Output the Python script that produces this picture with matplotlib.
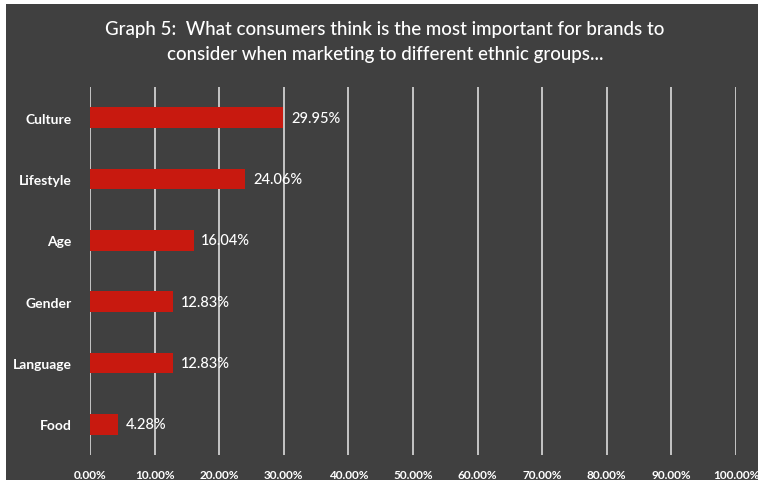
import matplotlib
matplotlib.use("Agg")
import matplotlib.pyplot as plt
from matplotlib.patches import Rectangle
from matplotlib.ticker import FuncFormatter

categories = ["Culture", "Lifestyle", "Age", "Gender", "Language", "Food"]
values = [29.95, 24.06, 16.04, 12.83, 12.83, 4.28]
xticks = [0, 10, 20, 30, 40, 50, 60, 70, 80, 90, 100]
title = "Graph 5:  What consumers think is the most important for brands to\nconsider when marketing to different ethnic groups..."

BG = "#404040"
RED = "#C8190F"
GRID = "#CFCFCF"
plt.rcParams['font.family'] = ['Lato', 'DejaVu Sans']

W, H = 758, 481
fig = plt.figure(figsize=(W / 100, H / 100), dpi=100)
fig.patch.set_facecolor(BG)
# thin white margins on top and left
fig.patches.append(Rectangle((0, 1 - 5 / H), 1, 5 / H, transform=fig.transFigure,
                             facecolor="white", edgecolor="none", zorder=-10))
fig.patches.append(Rectangle((0, 0), 6 / W, 1, transform=fig.transFigure,
                             facecolor="white", edgecolor="none", zorder=-10))

ax = fig.add_axes([90 / W, 1 - 456 / H, (736 - 90) / W, (456 - 88) / H])
ax.set_facecolor(BG)
ypos = list(range(len(categories)))
ax.barh(ypos, values, height=0.34, color=RED, zorder=3)
ax.set_ylim(len(categories) - 0.5, -0.5)
ax.set_xlim(0, 100)
ax.set_yticks(ypos)
ax.set_yticklabels(categories, color="white", fontsize=10, fontweight="bold")
ax.set_xticks(xticks)
ax.xaxis.set_major_formatter(FuncFormatter(lambda v, p: f"{v:.2f}%"))
for lbl in ax.get_xticklabels():
    lbl.set_color("white")
    lbl.set_fontsize(8.5)
    lbl.set_fontweight("bold")
ax.tick_params(axis="both", length=0)
ax.tick_params(axis="x", pad=10)
ax.tick_params(axis="y", pad=13)
ax.grid(axis="x", color=GRID, linewidth=1.3, zorder=1)
for s in ax.spines.values():
    s.set_visible(False)

for y, v in zip(ypos, values):
    ax.text(v + 1.2, y, f"{v:.2f}%", color="white", fontsize=10.5, va="center", ha="left",
            zorder=4, fontweight="medium")

fig.text(385 / W, 1 - 42 / H, title, color="white", fontsize=13.5, ha="center", va="center",
         linespacing=1.55, fontweight="medium")

fig.savefig("out.png", dpi=100, facecolor=fig.get_facecolor())
